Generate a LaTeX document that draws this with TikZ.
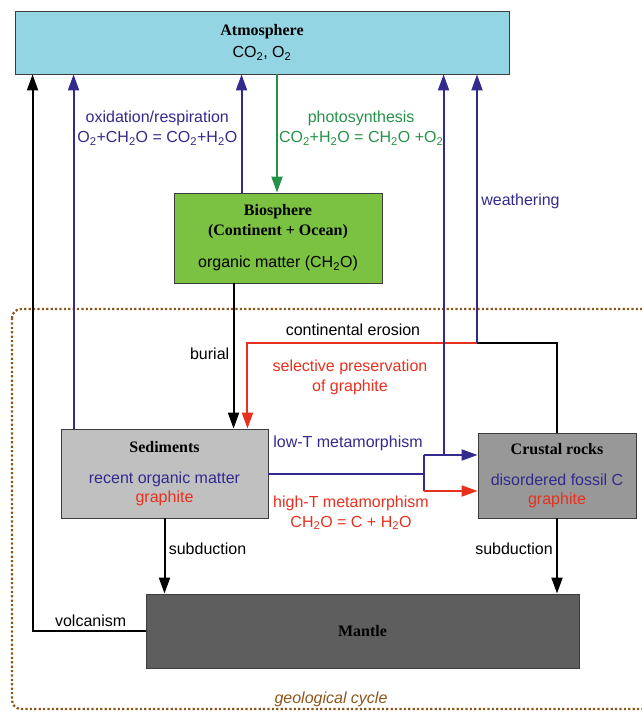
\documentclass[tikz,border=0pt]{standalone}
\usepackage{fontspec}
\setmainfont{Liberation Serif}
\setsansfont{Liberation Sans}
\usepackage{xcolor}
\usepackage{tikz}
\usetikzlibrary{arrows.meta,positioning,calc}
\definecolor{atmocyan}{RGB}{148,213,227}
\definecolor{biogreen}{RGB}{124,194,66}
\definecolor{sedgray}{RGB}{192,192,192}
\definecolor{crustgray}{RGB}{152,152,152}
\definecolor{mantlegray}{RGB}{94,94,94}
\definecolor{boxedge}{RGB}{60,60,60}
\definecolor{carbblue}{RGB}{50,42,140}
\definecolor{photogreen}{RGB}{38,146,72}
\definecolor{graphred}{RGB}{232,48,30}
\definecolor{cyclebrown}{RGB}{140,85,25}
\newcommand{\boxtitle}[1]{\textrm{\bfseries #1}}

\begin{document}
\begin{tikzpicture}[
    x=1pt, y=-1pt,
    font=\sffamily\fontsize{16}{20}\selectfont,
    box/.style={rectangle, draw=boxedge, line width=0.9pt, align=center, inner sep=0pt},
    flow/.style={line width=2pt},
    arrow/.style={flow, -{Triangle[length=16pt,width=11pt]}},
    frame/.style={draw=cyclebrown, line width=2.2pt, dash pattern=on 2.2pt off 2.2pt, rounded corners=9pt}
]
\useasboundingbox (0,0) rectangle (642,712);

% geological cycle frame
\draw[frame] (12,309) rectangle (690,709);

\node[box, fill=atmocyan, minimum width=494, minimum height=63] (atmos) at (262,42.5) {\boxtitle{Atmosphere}\\[2pt] CO\textsubscript{2}, O\textsubscript{2}};
\node[box, fill=biogreen, minimum width=208, minimum height=90] (bios) at (278,238) {\boxtitle{Biosphere}\\ \boxtitle{(Continent + Ocean)}\\[12pt] organic matter (CH\textsubscript{2}O)};
\node[box, fill=sedgray, minimum width=207, minimum height=89] (sed) at (164.5,473.5) {\boxtitle{Sediments}\\[11pt] \textcolor{carbblue}{recent organic matter}\\[-1pt] \textcolor{graphred}{graphite}};
\node[box, fill=crustgray, minimum width=158, minimum height=85] (crust) at (557,475.5) {\boxtitle{Crustal rocks}\\[11pt] \textcolor{carbblue}{disordered fossil C}\\[-1pt] \textcolor{graphred}{graphite}};
\node[box, fill=mantlegray, minimum width=433, minimum height=74] (mantle) at (362.5,631) {\boxtitle{Mantle}};

\coordinate (volcfoot) at ([xshift=18]atmos.south west);
\coordinate (oxleft) at ([xshift=13]sed.north west);
\coordinate (oxmid) at ([xshift=68]bios.north west);
\coordinate (photo) at ([xshift=-1]bios.north);
\coordinate (burial) at ([xshift=60]bios.south west);
\coordinate (presv) at ([xshift=-21]sed.north east);
\coordinate (wjoin) at (477,343);
\coordinate (mjoin) at (424,473.5);
\coordinate (lowT) at ([yshift=20.5]crust.west);
\coordinate (highT) at ([yshift=-15.5]crust.west);
\coordinate (crustox) at ([xshift=-34]lowT);

\draw[arrow] (mantle.west) -| node[above, pos=0.243] {volcanism} (volcfoot);
\draw[arrow, carbblue] (oxleft) -- (oxleft |- atmos.south);
\draw[arrow, carbblue] (oxmid) -- node[left, pos=0.546, align=center] {oxidation/respiration\\ O\textsubscript{2}+CH\textsubscript{2}O = CO\textsubscript{2}+H\textsubscript{2}O} (oxmid |- atmos.south);
\draw[arrow, photogreen] (photo |- atmos.south) -- node[right, pos=0.454, align=center, inner sep=1pt] {photosynthesis\\ CO\textsubscript{2}+H\textsubscript{2}O = CH\textsubscript{2}O +O\textsubscript{2}} (photo);
\draw[arrow] (burial) -- node[left, pos=0.486] {burial} (burial |- sed.north);

% continental erosion and weathering
\draw[flow] (crust.north) |- (wjoin);
\draw[arrow, graphred] (wjoin) -| (presv);
\draw[arrow, carbblue] (wjoin) -- node[right, pos=0.528] {weathering} (wjoin |- atmos.south);

% metamorphism
\draw[flow, carbblue] (sed.east) -- (mjoin);
\draw[flow, carbblue] (mjoin |- lowT) -- (mjoin |- highT);
\draw[arrow, carbblue] (mjoin |- lowT) -- (lowT);
\draw[arrow, graphred] (mjoin |- highT) -- (highT);
\draw[arrow, carbblue] (crustox) -- (crustox |- atmos.south);

\draw[arrow] (sed.south) -- node[right, pos=0.41] {subduction} (sed.south |- mantle.north);
\draw[arrow] (crust.south) -- node[left, pos=0.41] {subduction} (crust.south |- mantle.north);

\node (erosion) at (353,330) {continental erosion};
\node[text=graphred, align=center] (selpres) at (350,377) {selective preservation\\ of graphite};
\node[text=carbblue] (lowlbl) at (348,443) {low-T metamorphism};
\node[text=graphred, align=center] (highlbl) at (351,512.5) {high-T metamorphism\\ CH\textsubscript{2}O = C + H\textsubscript{2}O};
\node[text=cyclebrown] (cycle) at (331,699) {\itshape geological cycle};

\end{tikzpicture}
\end{document}
